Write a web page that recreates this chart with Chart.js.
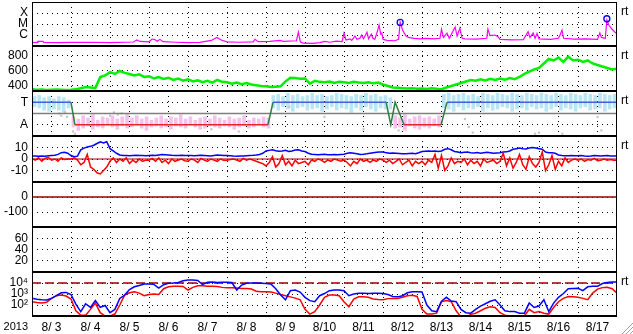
<!DOCTYPE html>
<html>
<head>
<meta charset="utf-8">
<script src="https://cdn.jsdelivr.net/npm/chart.js@4.4.1/dist/chart.umd.min.js"></script>
<style>
  body { margin: 0; background: #fff; }
  #wrap { position: relative; width: 633px; height: 334px; }
  canvas { position: absolute; left: 0; }
</style>
</head>
<body>
<div id="wrap">
  <canvas id="p1"></canvas>
  <canvas id="p2"></canvas>
  <canvas id="p3"></canvas>
  <canvas id="p4"></canvas>
  <canvas id="p5"></canvas>
  <canvas id="p6"></canvas>
  <canvas id="p7"></canvas>
</div>
<script>
// time axis: days since 2013-08-03 00UT
const dayTicks = [0, 1, 2, 3, 4, 5, 6, 7, 8, 9, 10, 11, 12, 13, 14];
const dayLabels = ["8/ 3", "8/ 4", "8/ 5", "8/ 6", "8/ 7", "8/ 8", "8/ 9", "8/10", "8/11", "8/12", "8/13", "8/14", "8/15", "8/16", "8/17"];
const yearLabel = "2013";

// X-ray flux, units of 1e-7 W/m2
const xrayDay = [0, 0.13, 0.15, 0.28, 0.30, 0.70, 1.00, 1.50, 2.00, 2.60, 2.69, 2.77, 3.00, 3.08, 3.15, 3.21, 3.28, 3.36, 3.70, 4.00,
  4.30, 4.60, 4.74, 4.85, 5.00, 5.30, 5.67, 5.72, 5.80, 6.10, 6.36, 6.44, 6.78, 6.83, 6.88, 6.95, 7.20, 7.38, 7.50, 7.64,
  7.80, 7.95, 8.00, 8.05, 8.15, 8.20, 8.28, 8.33, 8.41, 8.45, 8.50, 8.59, 8.63, 8.70, 8.74, 8.79, 8.86, 8.90, 8.94, 8.97,
  9.00, 9.10, 9.30, 9.40, 9.44, 9.50, 9.58, 9.65, 9.80, 9.95, 10.10, 10.30, 10.46, 10.50, 10.55, 10.64, 10.70, 10.85, 10.90, 10.97,
  11.03, 11.10, 11.40, 11.66, 11.69, 11.74, 11.87, 11.95, 12.00, 12.30, 12.60, 12.72, 12.77, 12.85, 12.90, 12.95, 13.00, 13.30, 13.50, 13.54,
  13.59, 13.63, 13.90, 14.20, 14.50, 14.56, 14.60, 14.70, 14.74, 14.79, 14.87, 14.95, 15.00];
const xrayFlux = [2.0, 2.1, 2.6, 2.6, 2.1, 2.0, 2.1, 2.2, 2.0, 2.3, 3.5, 2.6, 2.4, 4.3, 3.8, 2.7, 4.0, 2.5, 2.2, 2.0,
  2.1, 3.2, 6.0, 3.5, 2.4, 2.2, 2.4, 4.0, 2.5, 2.6, 3.2, 2.6, 3.0, 18, 2.4, 1.8, 1.7, 2.0, 2.6, 2.2,
  2.8, 2.5, 15, 3.5, 4.5, 3.2, 8, 4, 5, 10, 4.5, 18, 4.5, 12, 5, 4, 25, 80, 12, 15,
  4, 3.2, 3.0, 4, 150, 30, 9, 6, 5, 4.5, 5, 4.4, 5, 33, 6, 15, 5, 53, 8, 40,
  5, 4.5, 4.2, 5, 35, 9, 10, 7, 4, 3.6, 3.8, 20, 6, 15, 5, 14, 4.5, 4, 5, 10,
  28, 5, 4.2, 4.5, 4, 15, 6, 5, 230, 80, 35, 18, 14];
const flareDay = [9.44, 14.74];
const flareFlux = [140, 300];
const xrayTicks = [1e-6, 1e-5, 1e-4];
const xrayTickLabels = ["C", "M", "X"];

// solar wind speed, km/s, every 3 h
const speedStepH = 3;
const speed = [
  355, 350, 352, 348, 350, 352, 350, 348,
  350, 355, 370, 385, 380, 372, 520, 540,
  585, 560, 600, 575, 560, 540, 555, 520,
  530, 500, 520, 495, 510, 480, 500, 470,
  490, 460, 475, 450, 470, 445, 480, 455,
  450, 430, 445, 425, 440, 420, 410, 400,
  395, 385, 390, 395, 460, 510, 505, 495,
  500, 430, 470, 455, 450, 460, 440, 455,
  450, 440, 455, 445, 440, 450, 435, 445,
  420, 400, 380, 375, 370, 365, 368, 362,
  365, 360, 368, 362, 358, 380, 400, 420,
  440, 460, 480, 470, 490, 475, 495, 480,
  500, 485, 505, 490, 520, 560, 590, 620,
  640, 700, 760, 740, 780, 720, 790, 740,
  750, 720, 740, 700, 680, 660, 640, 620,
  630];
const speedTicks = [400, 600, 800];

// sector: T = +1, A = -1
const sectorDay = [0, 1.00, 1.10, 6.05, 6.18, 9.08, 9.20, 9.31, 9.54, 10.49, 10.64, 15];
const sectorState = [1, 1, -1, -1, 1, 1, -1, 1, -1, -1, 1, 1];
const phiStepH = 3;
const phiLo = [
  0.6, 0.5, 0.3, 0.2, 0.4, 0.3, 0.1, 0.5,
  -1.2, -1.5, -1.3, -1.1, -1.4, -1.2, -1.3, -1.0, -1.2, -1.4, -1.1, -1.3, -1.2, -1.0, -1.3, -1.5, -1.2, -1.1, -1.3, -1.2,
  -1.4, -1.1, -1.2, -1.3, -1.0, -1.2, -1.4, -1.3, -1.1, -1.2, -1.3, -1.1, -1.2, -1.4, -1.2, -1.1, -1.3, -1.2, -1.0, -1.2, -1.3,
  0.5, 0.3, 0.6, 0.4, 0.2, 0.5, 0.6, 0.3, 0.4, 0.5, 0.2, 0.4, 0.6, 0.3, 0.5, 0.4, 0.1, 0.5, 0.3, 0.6, 0.4, 0.2, 0.5, 0.4,
  0.4,
  -1.3, -1.2, -1.5, -1.1, -1.3, -1.4, -1.2, -1.3, -1.1, -1.2,
  0.5, 0.4, 0.2, 0.6, 0.3, 0.5, 0.4, 0.6, 0.2, 0.5, 0.3, 0.4, 0.6, 0.5, 0.2, 0.4, 0.5, 0.3,
  0.6, 0.4, 0.5, 0.2, 0.4, 0.6, 0.3, 0.5, 0.4, 0.2, 0.5, 0.6, 0.3, 0.4, 0.5, 0.2, 0.4, 0.5];
const phiHi = [
  1.5, 1.6, 1.4, 1.5, 1.3, 1.5, 1.4, 1.2,
  -0.3, -0.5, -0.2, -0.4, -0.1, -0.6, -0.3, -0.4, -0.2, -0.5, -0.3, 0.0, -0.4, -0.2, -0.5, -0.3, -0.6, -0.4, -0.2, -0.5,
  -0.3, -0.4, -0.1, -0.5, -0.3, -0.6, -0.4, -0.3, -0.5, -0.2, -0.4, -0.6, -0.3, -0.5, -0.4, -0.2, -0.6, -0.4, -0.5, -0.3, -0.4,
  1.6, 1.7, 1.5, 1.8, 1.6, 1.7, 1.5, 1.6, 1.8, 1.6, 1.7, 1.5, 1.6, 1.8, 1.7, 1.6, 1.5, 1.7, 1.6, 1.8, 1.6, 1.7, 1.5, 1.6,
  1.4,
  -0.2, -0.4, -0.1, -0.5, -0.3, -0.2, -0.4, -0.3, -0.5, -0.2,
  1.7, 1.8, 1.6, 1.7, 1.8, 1.6, 1.7, 1.5, 1.8, 1.7, 1.6, 1.8, 1.7, 1.6, 1.8, 1.7, 1.6, 1.8,
  1.7, 1.6, 1.8, 1.7, 1.6, 1.8, 1.7, 1.6, 1.8, 1.7, 1.6, 1.8, 1.7, 1.6, 1.8, 1.7, 1.6, 1.7];
const phiGrayDay = [0.70, 0.75, 0.85, 0.90, 1.05, 1.10, 2.00, 2.10, 2.20, 2.30, 4.60, 5.30, 6.50, 6.60, 7.50, 8.50, 9.40, 11.10, 11.20, 11.30, 12.90, 13.00, 13.60, 14.50, 14.60];
const phiGrayVal = [0.0, -0.2, 0.1, -0.3, -1.6, -1.8, -0.2, 0.1, -0.1, 0.0, -1.4, -1.6, 1.0, 0.6, -0.3, -1.4, -1.5, -0.5, -1.2, -1.7, -1.8, -1.7, -1.8, -0.3, -1.5];
const sectorTicks = [-1, 1];
const sectorTickLabels = ["A", "T"];

// IMF, nT, every 2 h
const imfStepH = 2;
const bt = [
  2.5, 2.6, 2.4, 2.7, 2.5, 2.8, 3.0, 3.2, 4.0, 5.5, 5.8, 5.0,
  3.0, 2.0, 2.5, 8.0, 9.5, 10.5, 11.0, 12.0, 13.5, 15.0, 14.0, 15.0,
  9.0, 7.0, 5.0, 3.5, 3.0, 3.0, 2.8, 3.0, 3.2, 3.0, 3.0, 2.8,
  3.0, 3.2, 3.0, 3.5, 4.0, 3.8, 3.5, 3.2, 3.0, 3.0, 3.2, 3.0,
  3.0, 3.0, 2.8, 3.0, 3.2, 3.0, 2.8, 2.6, 3.0, 3.4, 3.2, 3.0,
  3.0, 2.8, 2.6, 2.5, 2.7, 2.6, 2.8, 3.0, 3.2, 3.5, 4.0, 5.0,
  7.0, 7.5, 8.0, 7.2, 6.8, 7.0, 7.5, 6.5, 7.0, 7.8, 8.0, 7.0,
  6.5, 5.0, 4.2, 4.0, 3.8, 4.0, 4.2, 3.8, 3.6, 4.0, 3.8, 4.0,
  4.2, 5.0, 5.5, 5.0, 4.5, 4.0, 4.2, 4.5, 5.0, 5.5, 5.8, 6.0,
  6.0, 5.5, 5.0, 5.2, 5.0, 4.8, 4.5, 4.6, 4.8, 5.0, 4.6, 5.5,
  6.5, 6.8, 7.0, 6.8, 7.0, 6.6, 7.0, 8.5, 9.0, 8.0, 6.5, 6.0,
  5.5, 5.8, 6.0, 5.5, 5.2, 5.6, 5.0, 5.4, 5.8, 5.5, 5.0, 5.3,
  5.5, 6.0, 6.2, 7.0, 8.5, 9.0, 9.5, 9.0, 8.8, 9.5, 10.0, 9.5,
  9.0, 8.5, 6.0, 5.5, 5.5, 5.0, 3.5, 3.0, 2.8, 2.9, 3.0, 2.8,
  2.8, 3.0, 2.6, 2.5, 2.7, 3.0, 2.8, 2.6, 2.8, 3.0, 2.7, 2.6,
  2.6];
const bz = [
  0.5, -1, 1, -2, 0.5, 1.5, -1, 0, -2, 1, -0.5, 0,
  0, 1, -1, -5, -3, 4, -7, -9, -12, -13, -10, -7,
  -2, 1, -3, 0, -2, 1, -4, -1, -3, 0, -2, -1,
  -1, 0.5, -2, 1, -3, -1, -4, 0, -2, -1, 0, -1.5,
  -2, 0, -1, -3, 0.5, -1, -2, 0, -1, -2, 0, -1,
  -1, -0.5, 0, -1, -2, 0.5, -1, 0, -1, -2, -3, -4,
  -6, -3, 2, -7, -4, 3, -5, -2, -6, -1, -4, -3,
  -2, -5, -1, -2, 0, -1, -3, -1, -2, 0, -1, -2,
  -1, -3, -6, -2, -4, 0, -2, -1, -3, -1, -2, 0,
  -1, -3, -1, -4, -2, 0, -5, -3, -1, -6, -2, -4,
  -2, -5, -1, -3, 4, -8, 3, -10, -6, 1, -4, -2,
  -3, 0, -5, -1, -4, -2, -6, 0, -3, -2, -1, -4,
  -2, 5, -6, 1, -8, -3, 4, -5, -9, 2, -4, -7,
  -3, 6, -10, -5, 3, -9, -2, -6, 1, -3, -1, 0,
  -1, 0, -2, -0.5, -1, 0.5, -1.5, -1, 0, -1, -0.5, -1,
  -1];
const imfTicks = [-10, 0, 10];

const dstTicks = [-100, 0];
const kpTicks = [20, 40, 60];

// electron flux, every 3 h
const eStepH = 3;
const eBlue = [
  420, 330, 300, 280, 400, 700, 1300, 1400,
  900, 120, 25, 130, 60, 250, 60, 90,
  20, 40, 400, 800, 2500, 4500, 6000, 8000,
  8000, 7500, 3500, 7000, 9500, 10000, 11000, 16000,
  19000, 19000, 17000, 7000, 12000, 12500, 11000, 12000,
  11500, 11000, 2300, 6500, 9500, 10000, 9800, 9500,
  9000, 8000, 3000, 800, 300, 2000, 2300, 1500,
  500, 250, 200, 700, 1100, 2000, 2300, 2300,
  2000, 700, 1000, 1150, 1150, 1100, 1150, 1150,
  1100, 900, 600, 550, 700, 1300, 1600, 1600,
  1500, 100, 30, 25, 220, 500, 230, 200,
  40, 20, 18, 40, 80, 130, 220, 300,
  100, 30, 25, 25, 18, 18, 150, 60,
  80, 300, 25, 150, 500, 1100, 3000, 3200,
  3300, 2000, 4500, 5000, 5000, 9000, 11000, 12500,
  12500];
const eRed = [
  200, 170, 150, 180, 400, 700, 800, 650,
  350, 30, 12, 12, 40, 150, 20, 10,
  10, 15, 100, 800, 1300, 1600, 1200, 700,
  900, 1000, 900, 3000, 4500, 5000, 5000, 4800,
  2300, 4000, 5500, 5500, 5000, 5000, 4700, 4000,
  3700, 3700, 3500, 3200, 3200, 2800, 1800, 1600,
  1600, 1500, 1200, 900, 700, 550, 420, 300,
  40, 15, 25, 100, 500, 800, 800, 700,
  200, 70, 350, 550, 550, 500, 350, 320,
  300, 380, 400, 400, 500, 700, 750, 600,
  40, 15, 15, 18, 200, 250, 200, 30,
  8, 8, 14, 18, 30, 50, 70, 60,
  20, 12, 10, 10, 10, 10, 40, 20,
  25, 18, 15, 60, 200, 400, 600, 550,
  500, 400, 300, 1200, 2800, 3800, 4000, 3000,
  1200];
const eAlert = 1e4;
const eTicks = [1e2, 1e3, 1e4];
const eTickLabels = ["10²", "10³", "10⁴"];

Chart.defaults.font.family = '"Liberation Sans", Arial, sans-serif';
Chart.defaults.font.size = 12;
Chart.defaults.color = '#000';

const stepSeries = (vals, hours, k = 1) => vals.map((v, i) => ({ x: i * hours / 24, y: v * k }));
const pairs = (xs, ys, k = 1) => xs.map((x, i) => ({ x: x, y: ys[i] * k }));
const flat = v => [{ x: 0, y: v }, { x: 15, y: v }];

const frame = {
  id: 'frame',
  afterDraw(chart, args, o) {
    const { ctx, chartArea: a } = chart;
    ctx.save();
    ctx.strokeStyle = '#000';
    ctx.lineWidth = 2;
    ctx.beginPath();
    ctx.moveTo(a.left, a.top); ctx.lineTo(a.right, a.top);
    ctx.moveTo(a.left, a.bottom); ctx.lineTo(a.right, a.bottom);
    ctx.stroke();
    ctx.lineWidth = 1;
    ctx.beginPath();
    ctx.moveTo(a.left + 0.5, a.top); ctx.lineTo(a.left + 0.5, a.bottom);
    ctx.moveTo(a.right - 0.5, a.top); ctx.lineTo(a.right - 0.5, a.bottom);
    ctx.stroke();
    ctx.fillStyle = '#000';
    ctx.font = '12px "Liberation Sans", Arial, sans-serif';
    if (o.rt) {
      ctx.textBaseline = 'middle';
      ctx.fillText('rt', a.right + 4, a.top + 10);
    }
    if (o.year) {
      ctx.font = '11px "Liberation Sans", Arial, sans-serif';
      ctx.textAlign = 'right';
      ctx.textBaseline = 'top';
      ctx.fillText(yearLabel, a.left - 4, a.bottom + 5);
      // window grip
      ctx.strokeStyle = '#a0a0a0';
      ctx.beginPath();
      ctx.moveTo(633, 51); ctx.lineTo(622, 62);
      ctx.moveTo(633, 55); ctx.lineTo(626, 62);
      ctx.moveTo(633, 59); ctx.lineTo(630, 62);
      ctx.stroke();
    }
    ctx.restore();
  }
};

function panel(id, top, height, y, datasets, opts = {}) {
  const el = document.getElementById(id);
  el.width = 633;
  el.height = height;
  el.style.top = top + 'px';
  const xh = opts.xh || 0;
  return new Chart(el, {
    type: 'line',
    data: { datasets },
    options: {
      responsive: false,
      animation: false,
      devicePixelRatio: 1,
      layout: { autoPadding: false, padding: { left: 0, right: 16, top: 0, bottom: 0 } },
      plugins: { legend: { display: false }, tooltip: { enabled: false }, frame: opts.frame || {} },
      elements: { point: { radius: 0, hoverRadius: 0 }, line: { tension: 0, borderWidth: 1.5 } },
      scales: {
        x: {
          type: 'linear', min: 0, max: 15, offset: false,
          afterBuildTicks: s => { s.ticks = dayTicks.map(v => ({ value: v })); },
          afterFit: s => { s.height = xh; s.paddingLeft = 0; s.paddingRight = 0; },
          grid: { color: '#000', drawTicks: false },
          border: { display: false, dash: [1, 4] },
          ticks: { display: xh > 0, autoSkip: false, maxRotation: 0, labelOffset: 19.5, padding: 4,
                   callback: (v, i) => dayLabels[i] }
        },
        y: {
          type: y.type || 'linear', min: y.min, max: y.max,
          afterBuildTicks: s => { s.ticks = y.ticks.map(v => ({ value: v })); },
          afterFit: s => { s.width = 32; s.paddingTop = 0; s.paddingBottom = 0; },
          grid: { color: '#000', drawTicks: false },
          border: { display: false, dash: [1, 4] },
          ticks: { padding: 4, autoSkip: false, callback: (v, i) => y.labels[i] }
        }
      }
    },
    plugins: [frame]
  });
}

// 1: X-ray
panel('p1', 2, 44, { type: 'logarithmic', min: 1e-7, max: 1e-3, ticks: xrayTicks, labels: xrayTickLabels }, [
  { data: pairs(flareDay, flareFlux, 1e-7), showLine: false, pointRadius: 3, pointBorderWidth: 1.3,
    pointBorderColor: '#0000ff', pointBackgroundColor: 'rgba(0,0,0,0)' },
  { data: pairs(xrayDay, xrayFlux, 1e-7), borderColor: '#ff00ff', borderWidth: 1.2 }
], { frame: { rt: true } });

// 2: speed
panel('p2', 46, 45, { min: 333, max: 933, ticks: speedTicks, labels: speedTicks.map(String) }, [
  { data: stepSeries(speed, speedStepH), borderColor: '#00f000', borderWidth: 2.5 }
], { frame: { rt: true } });

// 3: sector
panel('p3', 91, 45, { min: -2, max: 2, ticks: sectorTicks, labels: sectorTickLabels }, [
  { data: pairs(sectorDay, sectorState), borderWidth: 1.5,
    segment: { borderColor: c => c.p0.parsed.y !== c.p1.parsed.y ? '#2f7f3f' : (c.p0.parsed.y > 0 ? '#4060e0' : '#e02828') } },
  { data: flat(0), borderColor: '#808080', borderWidth: 1.5 },
  { data: pairs(phiGrayDay, phiGrayVal), showLine: false, pointRadius: 1.5, pointStyle: 'rect',
    pointBackgroundColor: '#c4c4c4', pointBorderWidth: 0 },
  { type: 'bar', data: phiLo.map((lo, i) => ({ x: (i + 0.5) * phiStepH / 24, y: [lo, phiHi[i]] })),
    backgroundColor: phiLo.map((lo, i) => lo + phiHi[i] > 0 ? '#b8e6f4' : '#f5c0ee'),
    barThickness: 3, borderWidth: 0 }
], { frame: { rt: true } });

// 4: IMF
panel('p4', 136, 46, { min: -20, max: 20, ticks: imfTicks, labels: imfTicks.map(String) }, [
  { data: stepSeries(bz, imfStepH), borderColor: '#ff0000', borderWidth: 1.5 },
  { data: stepSeries(bt, imfStepH), borderColor: '#0000ff', borderWidth: 1.5 },
  { data: flat(0), borderColor: '#a00000', borderWidth: 1.2 }
], { frame: { rt: true } });

// 5: Dst
panel('p5', 182, 45, { min: -200, max: 100, ticks: dstTicks, labels: dstTicks.map(String) }, [
  { data: flat(0), borderColor: '#a00000', borderWidth: 1.5 }
]);

// 6: Kp
panel('p6', 227, 45, { min: 0, max: 80, ticks: kpTicks, labels: kpTicks.map(String) }, []);

// 7: electrons
panel('p7', 272, 62, { type: 'logarithmic', min: 10, max: 1e5, ticks: eTicks, labels: eTickLabels }, [
  { data: stepSeries(eBlue, eStepH), borderColor: '#0000ff', borderWidth: 1.5, clip: 0 },
  { data: stepSeries(eRed, eStepH), borderColor: '#ff0000', borderWidth: 1.5, clip: 0 },
  { data: flat(eAlert), borderColor: '#a00000', borderWidth: 1.5, borderDash: [9, 4] }
], { xh: 18, frame: { rt: true, year: true } });
</script>
</body>
</html>
